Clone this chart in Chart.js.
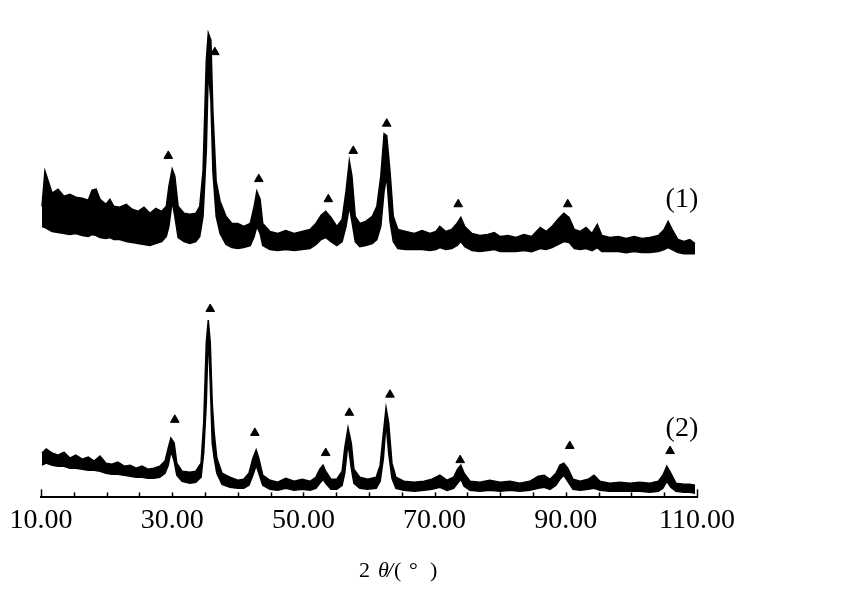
<!DOCTYPE html>
<html>
<head>
<meta charset="utf-8">
<script src="https://cdn.jsdelivr.net/npm/chart.js@4.4.0/dist/chart.umd.min.js"></script>
<style>
  html, body { margin: 0; padding: 0; background: #fff; }
  #wrap { width: 855px; height: 613px; }
</style>
</head>
<body>
<div id="wrap"><canvas id="xrd" width="855" height="613"></canvas></div>
<script>
// 2θ positions and upper / lower edge of the noisy trace (1), arbitrary intensity
const angles1 = [10.15,10.6,11.1,11.7,12.6,13.5,14.4,15.3,16.3,17.2,17.8,18.4,19.0,19.9,20.5,21.1,22.0,23.0,23.9,24.8,25.7,26.6,27.5,28.4,29.1,29.5,30.0,30.4,30.9,31.8,32.7,33.6,34.2,34.7,35.2,35.5,35.9,36.2,36.7,37.3,38.2,39.1,40.0,40.9,41.9,42.5,42.9,43.4,43.8,44.9,46.1,47.3,48.6,49.8,51.0,51.9,52.7,53.4,54.2,55.1,55.9,56.5,57.0,57.4,57.9,58.6,59.5,60.5,61.2,61.8,62.3,62.7,63.2,63.7,64.4,65.6,66.9,68.1,69.3,70.2,70.8,71.7,72.6,73.4,74.0,74.6,75.7,76.9,78.1,79.1,80.0,81.2,82.4,83.6,84.8,86.1,87.0,87.9,88.8,89.7,90.5,91.3,92.2,93.1,94.0,94.8,95.5,96.7,98.0,99.2,100.4,101.6,102.8,104.1,105.0,105.6,106.2,107.1,108.0,108.9,109.7];
const top1 = [49,84,74,62,66,59,61,58,57,55,65,66,56,51,56,49,48,51,46,44,48,42,47,44,49,69,86,79,49,42,41,42,49,84,194,221,214,144,74,54,39,32,32,29,32,49,64,56,32,24,22,25,22,24,26,32,40,44,38,29,36,64,94,79,39,32,34,39,49,79,121,119,84,39,26,24,22,25,22,24,29,24,26,32,38,29,22,20,21,23,19,20,18,21,19,28,24,29,36,42,38,26,24,28,22,31,20,18,19,17,19,17,18,20,26,34,26,16,14,16,12];
const bottom1 = [29,28,26,24,23,22,21,22,20,19,21,20,18,17,18,16,16,14,13,12,11,10,12,14,19,29,54,39,18,14,12,14,19,39,104,184,154,84,39,22,11,8,7,8,10,19,29,22,10,6,5,6,5,6,7,11,16,18,14,10,14,29,49,34,14,9,10,12,16,29,64,79,34,14,7,6,6,6,5,6,8,6,7,10,14,9,5,4,5,6,4,4,4,5,4,7,6,8,11,14,13,7,6,7,5,8,4,4,4,3,4,3,3,4,6,8,6,3,2,2,2];

// trace (2)
const angles2 = [10.15,10.8,11.7,12.6,13.5,14.4,15.3,16.3,17.2,18.1,19.0,19.9,20.8,21.7,22.7,23.6,24.5,25.4,26.3,27.2,28.1,28.9,29.4,29.8,30.3,30.7,31.5,32.7,33.6,34.4,34.8,35.2,35.5,35.8,36.1,36.4,36.8,37.6,38.8,40.0,40.9,41.7,42.3,42.8,43.2,43.8,44.9,46.1,47.3,48.6,49.8,51.0,51.9,52.5,53.0,53.4,54.2,55.1,55.9,56.3,56.8,57.3,57.7,58.6,59.8,61.1,61.7,62.2,62.6,63.0,63.5,64.1,65.3,66.9,68.4,69.6,70.8,71.9,72.9,73.5,74.0,74.5,75.4,76.9,78.4,80.0,81.5,83.0,84.5,85.8,86.7,87.6,88.5,89.1,89.7,90.3,91.1,92.2,93.4,94.3,95.2,96.7,98.3,99.8,101.3,102.8,104.1,104.8,105.4,106.0,106.8,108.0,108.9,109.7];
const top2 = [44,48,44,42,45,39,42,38,40,36,41,34,33,35,31,32,29,31,28,29,31,36,49,59,54,34,26,25,26,34,74,154,176,154,94,64,39,24,20,17,18,24,39,47,39,22,17,15,19,16,18,16,20,28,32,26,18,18,26,49,69,54,28,20,18,20,32,64,89,74,34,20,16,15,16,18,22,17,20,28,32,24,16,15,17,15,16,14,16,21,22,18,24,32,34,29,18,16,18,22,16,14,15,14,15,14,16,22,31,24,14,13,13,12];
const bottom2 = [32,34,32,31,31,29,29,28,27,27,26,24,23,23,22,21,20,20,19,19,20,24,32,46,36,22,16,14,15,20,44,94,164,114,54,39,24,13,10,9,9,12,22,32,24,12,8,7,9,7,8,7,9,14,18,14,8,8,12,24,54,29,14,9,8,9,16,39,74,44,19,9,7,6,7,8,10,7,9,14,18,11,7,6,7,6,7,6,7,9,10,8,12,18,22,16,8,7,8,9,7,6,6,6,6,5,6,9,16,10,6,5,5,4];

// peak markers (▲): 2θ and height
const marks1Angle = [29.4,36.5,43.2,53.8,57.6,62.7,73.6,90.3];
const marks1Value = [99,202,76,56,104,131,51,51];
const marks2Angle = [30.4,35.8,42.6,53.4,57.0,63.2,73.9,90.6,105.9];
const marks2Value = [77,187,64,44,84,102,37,51,46];

const xMin = 10, xMax = 110, tickStep = 5;
const labelValues = [10, 30, 50, 70, 90, 110];
const OFFSET1 = 240;   // vertical shift of trace (1) above trace (2)

const serif = '"Liberation Serif", "DejaVu Serif", serif';

function pts(xs, ys, off) {
    return xs.map((x, i) => ({ x: x, y: ys[i] + off }));
}

const bandStyle = {
    borderColor: '#000',
    backgroundColor: '#000',
    borderWidth: 1.5,
    pointRadius: 0,
    tension: 0,
};

// ticks pointing up + series labels + axis title
const xrdDecor = {
    id: 'xrdDecor',
    afterDraw(chart) {
        const ctx = chart.ctx;
        const xs = chart.scales.x, ys = chart.scales.y;
        const base = chart.chartArea.bottom;
        ctx.save();
        ctx.strokeStyle = '#000';
        ctx.lineWidth = 1.5;
        xs.ticks.forEach(t => {
            const px = Math.round(xs.getPixelForValue(t.value)) + 0.5;
            const len = (t.value === xMin || t.value === xMax) ? 8 : 5;
            ctx.beginPath();
            ctx.moveTo(px, base);
            ctx.lineTo(px, base - len);
            ctx.stroke();
        });

        ctx.fillStyle = '#000';
        ctx.font = '28px ' + serif;
        ctx.textAlign = 'center';
        ctx.textBaseline = 'middle';
        ctx.fillText('(1)', xs.getPixelForValue(107.7), ys.getPixelForValue(296));
        ctx.fillText('(2)', xs.getPixelForValue(107.7), ys.getPixelForValue(68));

        // 2θ/(°)
        const cx = (chart.chartArea.left + chart.chartArea.right) / 2 + 31;
        const by = 577;
        ctx.textAlign = 'left';
        ctx.textBaseline = 'alphabetic';
        const parts = [
            ['2', '22px ' + serif, -41],
            ['\u03B8', 'italic 22px ' + serif, -22],
            ['/', 'italic 22px ' + serif, -13],
            ['(', '22px ' + serif, -6],
            ['\u00B0', '22px ' + serif, 9],
            [')', '22px ' + serif, 30],
        ];
        parts.forEach(p => {
            ctx.font = p[1];
            ctx.fillText(p[0], cx + p[2], by);
        });
        ctx.restore();
    }
};

new Chart(document.getElementById('xrd'), {
    type: 'line',
    data: {
        datasets: [
            Object.assign({ data: pts(angles1, top1, OFFSET1), fill: '+1' }, bandStyle),
            Object.assign({ data: pts(angles1, bottom1, OFFSET1), fill: false }, bandStyle),
            Object.assign({ data: pts(angles2, top2, 0), fill: '+1' }, bandStyle),
            Object.assign({ data: pts(angles2, bottom2, 0), fill: false }, bandStyle),
            {
                type: 'scatter',
                data: pts(marks1Angle, marks1Value, OFFSET1),
                pointStyle: 'triangle',
                pointRadius: 5,
                backgroundColor: '#000',
                borderColor: '#000',
                borderWidth: 1,
            },
            {
                type: 'scatter',
                data: pts(marks2Angle, marks2Value, 0),
                pointStyle: 'triangle',
                pointRadius: 5,
                backgroundColor: '#000',
                borderColor: '#000',
                borderWidth: 1,
            },
        ]
    },
    options: {
        responsive: false,
        animation: false,
        devicePixelRatio: 1,
        layout: { padding: { left: 41, right: 158, top: 30, bottom: 70 } },
        plugins: { legend: { display: false }, tooltip: { enabled: false } },
        scales: {
            x: {
                type: 'linear',
                min: xMin,
                max: xMax,
                grid: { display: false, drawTicks: false },
                border: { display: true, color: '#000', width: 2 },
                ticks: {
                    stepSize: tickStep,
                    autoSkip: false,
                    maxRotation: 0,
                    padding: 6,
                    color: '#000',
                    font: { family: serif, size: 28 },
                    callback: v => labelValues.includes(v) ? v.toFixed(2) : ''
                }
            },
            y: { display: false, min: 0, max: 464 }
        }
    },
    plugins: [xrdDecor]
});
</script>
</body>
</html>
